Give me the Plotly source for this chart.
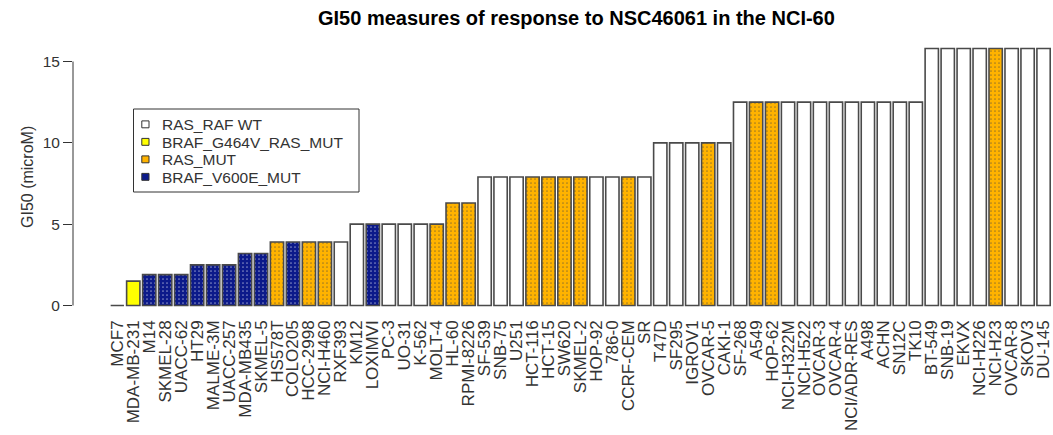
import plotly.graph_objects as go

# ---- data ----
cell_lines = ["MCF7", "MDA-MB-231", "M14", "SKMEL-28", "UACC-62", "HT29", "MALME-3M", "UACC-257",
              "MDA-MB435", "SKMEL-5", "HS578T", "COLO205", "HCC-2998", "NCI-H460", "RXF393", "KM12",
              "LOXIMVI", "PC-3", "UO-31", "K-562", "MOLT-4", "HL-60", "RPMI-8226", "SF-539", "SNB-75",
              "U251", "HCT-116", "HCT-15", "SW620", "SKMEL-2", "HOP-92", "786-0", "CCRF-CEM", "SR",
              "T47D", "SF295", "IGROV1", "OVCAR-5", "CAKI-1", "SF-268", "A549", "HOP-62", "NCI-H322M",
              "NCI-H522", "OVCAR-3", "OVCAR-4", "NCI/ADR-RES", "A498", "ACHN", "SN12C", "TK10",
              "BT-549", "SNB-19", "EKVX", "NCI-H226", "NCI-H23", "OVCAR-8", "SKOV3", "DU-145"]

gi50 = [0.0, 1.5, 1.9, 1.9, 1.9, 2.5, 2.5, 2.5,
        3.2, 3.2, 3.9, 3.9, 3.9, 3.9, 3.9, 5.0,
        5.0, 5.0, 5.0, 5.0, 5.0, 6.3, 6.3, 7.9, 7.9,
        7.9, 7.9, 7.9, 7.9, 7.9, 7.9, 7.9, 7.9, 7.9,
        10.0, 10.0, 10.0, 10.0, 10.0, 12.5, 12.5, 12.5, 12.5,
        12.5, 12.5, 12.5, 12.5, 12.5, 12.5, 12.5, 12.5,
        15.8, 15.8, 15.8, 15.8, 15.8, 15.8, 15.8, 15.8]

status = ["WT", "G464V", "V600E", "V600E", "V600E", "V600E", "V600E", "V600E",
          "V600E", "V600E", "RAS", "V600E", "RAS", "RAS", "WT", "WT",
          "V600E", "WT", "WT", "WT", "RAS", "RAS", "RAS", "WT", "WT",
          "WT", "RAS", "RAS", "RAS", "RAS", "WT", "WT", "RAS", "WT",
          "WT", "WT", "WT", "RAS", "WT", "WT", "RAS", "RAS", "WT",
          "WT", "WT", "WT", "WT", "WT", "WT", "WT", "WT",
          "WT", "WT", "WT", "WT", "RAS", "WT", "WT", "WT"]

legend_keys = ["WT", "G464V", "RAS", "V600E"]
legend_labels = ["RAS_RAF WT", "BRAF_G464V_RAS_MUT", "RAS_MUT", "BRAF_V600E_MUT"]
y_ticks = [0, 5, 10, 15]

# ---- styles ----
fill = {"WT": "#FFFFFF", "G464V": "#FFFF00", "RAS": "#FFB300", "V600E": "#0C1A8A"}
dots = {"WT": "", "G464V": "", "RAS": ".", "V600E": "."}
dotcol = {"WT": "#000000", "G464V": "#000000", "RAS": "#6F7090", "V600E": "#000000"}
FONT = "Liberation Sans, Arial"

W, H = 1053, 435
ML, MR, MT, MB = 73, 0, 37, 119
PW, PH = W - ML - MR, H - MT - MB
PX_UNIT_X = 15.97
X0C = 117.3
PX_UNIT_Y = 16.267
Y0PX = 305.5

xr0 = (ML - X0C) / PX_UNIT_X
xr1 = xr0 + PW / PX_UNIT_X
yr0 = -((H - MB) - Y0PX) / PX_UNIT_Y
yr1 = yr0 + PH / PX_UNIT_Y


def px(xpix):
    return (xpix - ML) / PW


def py(ypix):
    return ((H - MB) - ypix) / PH


fig = go.Figure()
fig.add_trace(go.Bar(
    x=cell_lines, y=gi50,
    marker=dict(
        color=[fill[s] for s in status],
        line=dict(color="#4A4A4A", width=1.6),
        pattern=dict(shape=[dots[s] for s in status],
                     fgcolor=[dotcol[s] for s in status],
                     size=4, solidity=0.15),
    ),
    showlegend=False,
    hoverinfo="x+y",
))

shapes = [
    # y axis line (0..15 only, like base R)
    dict(type="line", xref="paper", yref="y", x0=0, x1=0, y0=0, y1=15,
         line=dict(color="#333333", width=1)),
    # legend box
    dict(type="rect", xref="paper", yref="paper", x0=px(133.5), x1=px(359),
         y0=py(192), y1=py(109), line=dict(color="#333333", width=1), fillcolor="white"),
]
annotations = [
    dict(text="GI50 measures of response to NSC46061 in the NCI-60", xref="paper", yref="paper",
         x=px(576), y=py(18), xanchor="center", yanchor="middle", showarrow=False,
         font=dict(family=FONT, size=20, color="#000000", weight="bold")),
    dict(text="GI50 (microM)", xref="paper", yref="paper", x=px(27.5), y=py(177.5),
         xanchor="center", yanchor="middle", textangle=-90, showarrow=False,
         font=dict(family=FONT, size=16, color="#333333")),
]
row_y = [124.5, 142.0, 159.5, 177.0]
for k, lab, ry in zip(legend_keys, legend_labels, row_y):
    shapes.append(dict(type="rect", xref="paper", yref="paper",
                       x0=px(141.8), x1=px(149), y0=py(ry + 3.3), y1=py(ry - 3.6),
                       line=dict(color="#333333", width=1), fillcolor=fill[k]))
    annotations.append(dict(text=lab, xref="paper", yref="paper", x=px(160.5), y=py(ry),
                            xanchor="left", yanchor="middle", showarrow=False, borderpad=0,
                            font=dict(family=FONT, size=15.5, color="#333333")))

fig.update_layout(
    width=W, height=H,
    margin=dict(l=ML, r=MR, t=MT, b=MB, pad=0),
    paper_bgcolor="white", plot_bgcolor="white",
    bargap=0.167,
    font=dict(family=FONT, color="#333333"),
    xaxis=dict(type="category", categoryorder="array", categoryarray=cell_lines,
               tickmode="array", tickvals=cell_lines, ticktext=cell_lines,
               range=[xr0, xr1], showgrid=False, zeroline=False, showline=False,
               ticks="", tickangle=-90, tickfont=dict(size=17, color="#333333")),
    yaxis=dict(range=[yr0, yr1], tickvals=y_ticks, ticktext=[str(t) for t in y_ticks],
               showgrid=False, zeroline=False, showline=False,
               ticks="outside", ticklen=9, tickwidth=1, tickcolor="#333333",
               tickfont=dict(size=15.5, color="#333333")),
    shapes=shapes, annotations=annotations,
    showlegend=False,
)

fig.write_html("out.html")
